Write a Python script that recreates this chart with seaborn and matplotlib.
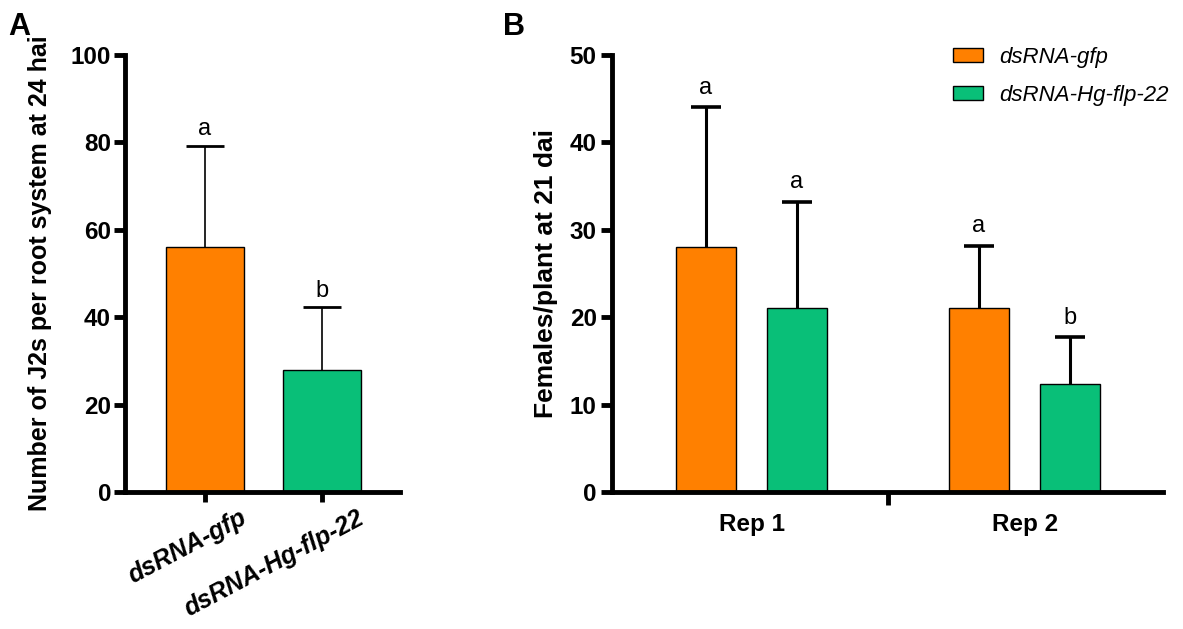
import numpy as np
import pandas as pd
import matplotlib
matplotlib.use("Agg")
import matplotlib.pyplot as plt
import matplotlib.transforms as mtrans
from matplotlib.patches import Patch
import seaborn as sns

# panel A data
groups_a = ["dsRNA-gfp", "dsRNA-Hg-flp-22"]
mean_a = [56.0, 28.0]
sd_a = [23.2, 14.3]
letters_a = ["a", "b"]

# panel B data
reps = ["Rep 1", "Rep 2"]
treatments = ["dsRNA-gfp", "dsRNA-Hg-flp-22"]
mean_gfp = [28.0, 21.0]
mean_flp = [21.0, 12.4]
sd_gfp = [16.0, 7.2]
sd_flp = [12.2, 5.3]
letters_gfp = ["a", "a"]
letters_flp = ["a", "b"]

colors = ["#FF8000", "#09BF78"]

sns.set_style("ticks")
plt.rcParams["font.family"] = ["Liberation Sans", "DejaVu Sans"]
for k in ["text.color", "axes.labelcolor", "xtick.color", "ytick.color",
          "axes.edgecolor"]:
    plt.rcParams[k] = "black"

fig = plt.figure(figsize=(11.83, 6.29), dpi=100)
W, H = 1183, 629
axA = fig.add_axes([125 / W, 1 - 492 / H, 275 / W, 437 / H])
axB = fig.add_axes([612 / W, 1 - 492 / H, 551 / W, 437 / H])


def draw_err(ax, xs, ys, errs, lw, capsize, capthick):
    res = ax.errorbar(xs, ys, yerr=[np.zeros(len(errs)), errs], fmt="none",
                      ecolor="black", elinewidth=lw, capsize=capsize,
                      capthick=capthick, zorder=1)
    for cl in res[1]:
        if np.allclose(cl.get_ydata(), ys):
            cl.set_visible(False)


# ---- panel A
dfa = pd.DataFrame({"group": groups_a, "value": mean_a})
sns.barplot(data=dfa, x="group", y="value", hue="group", palette=colors,
            saturation=1, width=0.66, edgecolor="black", linewidth=1,
            legend=False, ax=axA)
xs = [p.get_x() + p.get_width() / 2 for p in axA.patches]
draw_err(axA, xs, mean_a, sd_a, 1.2, 14, 2)
for x, m, s, t in zip(xs, mean_a, sd_a, letters_a):
    axA.annotate(t, (x, m + s), xytext=(0, 4), textcoords="offset points",
                 ha="center", va="bottom", fontsize=17)
axA.set_xlim(-0.684, 1.667)
axA.set_ylim(0, 100)
axA.set_yticks([0, 20, 40, 60, 80, 100])
axA.set_xlabel("")
axA.set_ylabel("Number of J2s per root system at 24 hai", fontsize=18,
               fontweight="bold")
axA.yaxis.set_label_coords(-0.265, 0.5)
axA.tick_params(axis="y", length=8, width=3.5, pad=2, labelsize=17.5)
axA.tick_params(axis="x", length=7, width=3.5, pad=9)
for lab in axA.get_yticklabels():
    lab.set_fontweight("bold")
axA.set_xticks([0, 1])
axA.set_xticklabels(groups_a, rotation=28, ha="right", va="center",
                    rotation_mode="anchor", fontsize=18, fontweight="bold",
                    fontstyle="italic")
off = mtrans.ScaledTranslation(0.40, -0.02, fig.dpi_scale_trans)
for lab in axA.get_xticklabels():
    lab.set_transform(lab.get_transform() + off)
sns.despine(ax=axA)
for sp in ["left", "bottom"]:
    axA.spines[sp].set_linewidth(3.5)

# ---- panel B
dfb = pd.DataFrame({
    "rep": reps * 2,
    "treatment": [treatments[0]] * 2 + [treatments[1]] * 2,
    "value": mean_gfp + mean_flp,
})
sns.barplot(data=dfb, x="rep", y="value", hue="treatment", palette=colors,
            saturation=1, width=2 / 3, gap=0.34, edgecolor="black",
            linewidth=1, legend=False, ax=axB)
for cont, means, sds, lets in zip(axB.containers, [mean_gfp, mean_flp],
                                  [sd_gfp, sd_flp], [letters_gfp, letters_flp]):
    bx = [p.get_x() + p.get_width() / 2 for p in cont.patches]
    draw_err(axB, bx, means, sds, 2.2, 11, 2.6)
    for x, m, s, t in zip(bx, means, sds, lets):
        axB.annotate(t, (x, m + s), xytext=(0, 6), textcoords="offset points",
                     ha="center", va="bottom", fontsize=17)
axB.set_xlim(-0.511, 1.507)
axB.set_ylim(0, 50)
axB.set_yticks([0, 10, 20, 30, 40, 50])
axB.set_xticks([0, 1])
axB.set_xticklabels(reps, fontsize=17.5, fontweight="bold")
axB.set_xticks([0.5], minor=True)
axB.tick_params(axis="x", which="major", length=0, pad=15)
axB.tick_params(axis="x", which="minor", length=9, width=3.5)
axB.tick_params(axis="y", length=8, width=3.5, pad=3, labelsize=17.5)
for lab in axB.get_yticklabels():
    lab.set_fontweight("bold")
axB.set_xlabel("")
axB.set_ylabel("Females/plant at 21 dai", fontsize=19, fontweight="bold")
axB.yaxis.set_label_coords(-0.098, 0.5)
sns.despine(ax=axB)
for sp in ["left", "bottom"]:
    axB.spines[sp].set_linewidth(3.5)

handles = [Patch(facecolor=c, edgecolor="black", linewidth=1) for c in colors]
fig.legend(handles, treatments, loc="upper left",
           bbox_to_anchor=(953 / W, 1 - 47 / H), frameon=False,
           borderpad=0, borderaxespad=0, handlelength=1.36, handleheight=0.6,
           handletextpad=0.7, labelspacing=0.75,
           prop={"size": 16, "style": "italic"})

fig.text(8 / W, 1 - 35 / H, "A", fontsize=22, fontweight="bold")
fig.text(503 / W, 1 - 35 / H, "B", fontsize=22, fontweight="bold")

fig.savefig("out.png", dpi=100)
